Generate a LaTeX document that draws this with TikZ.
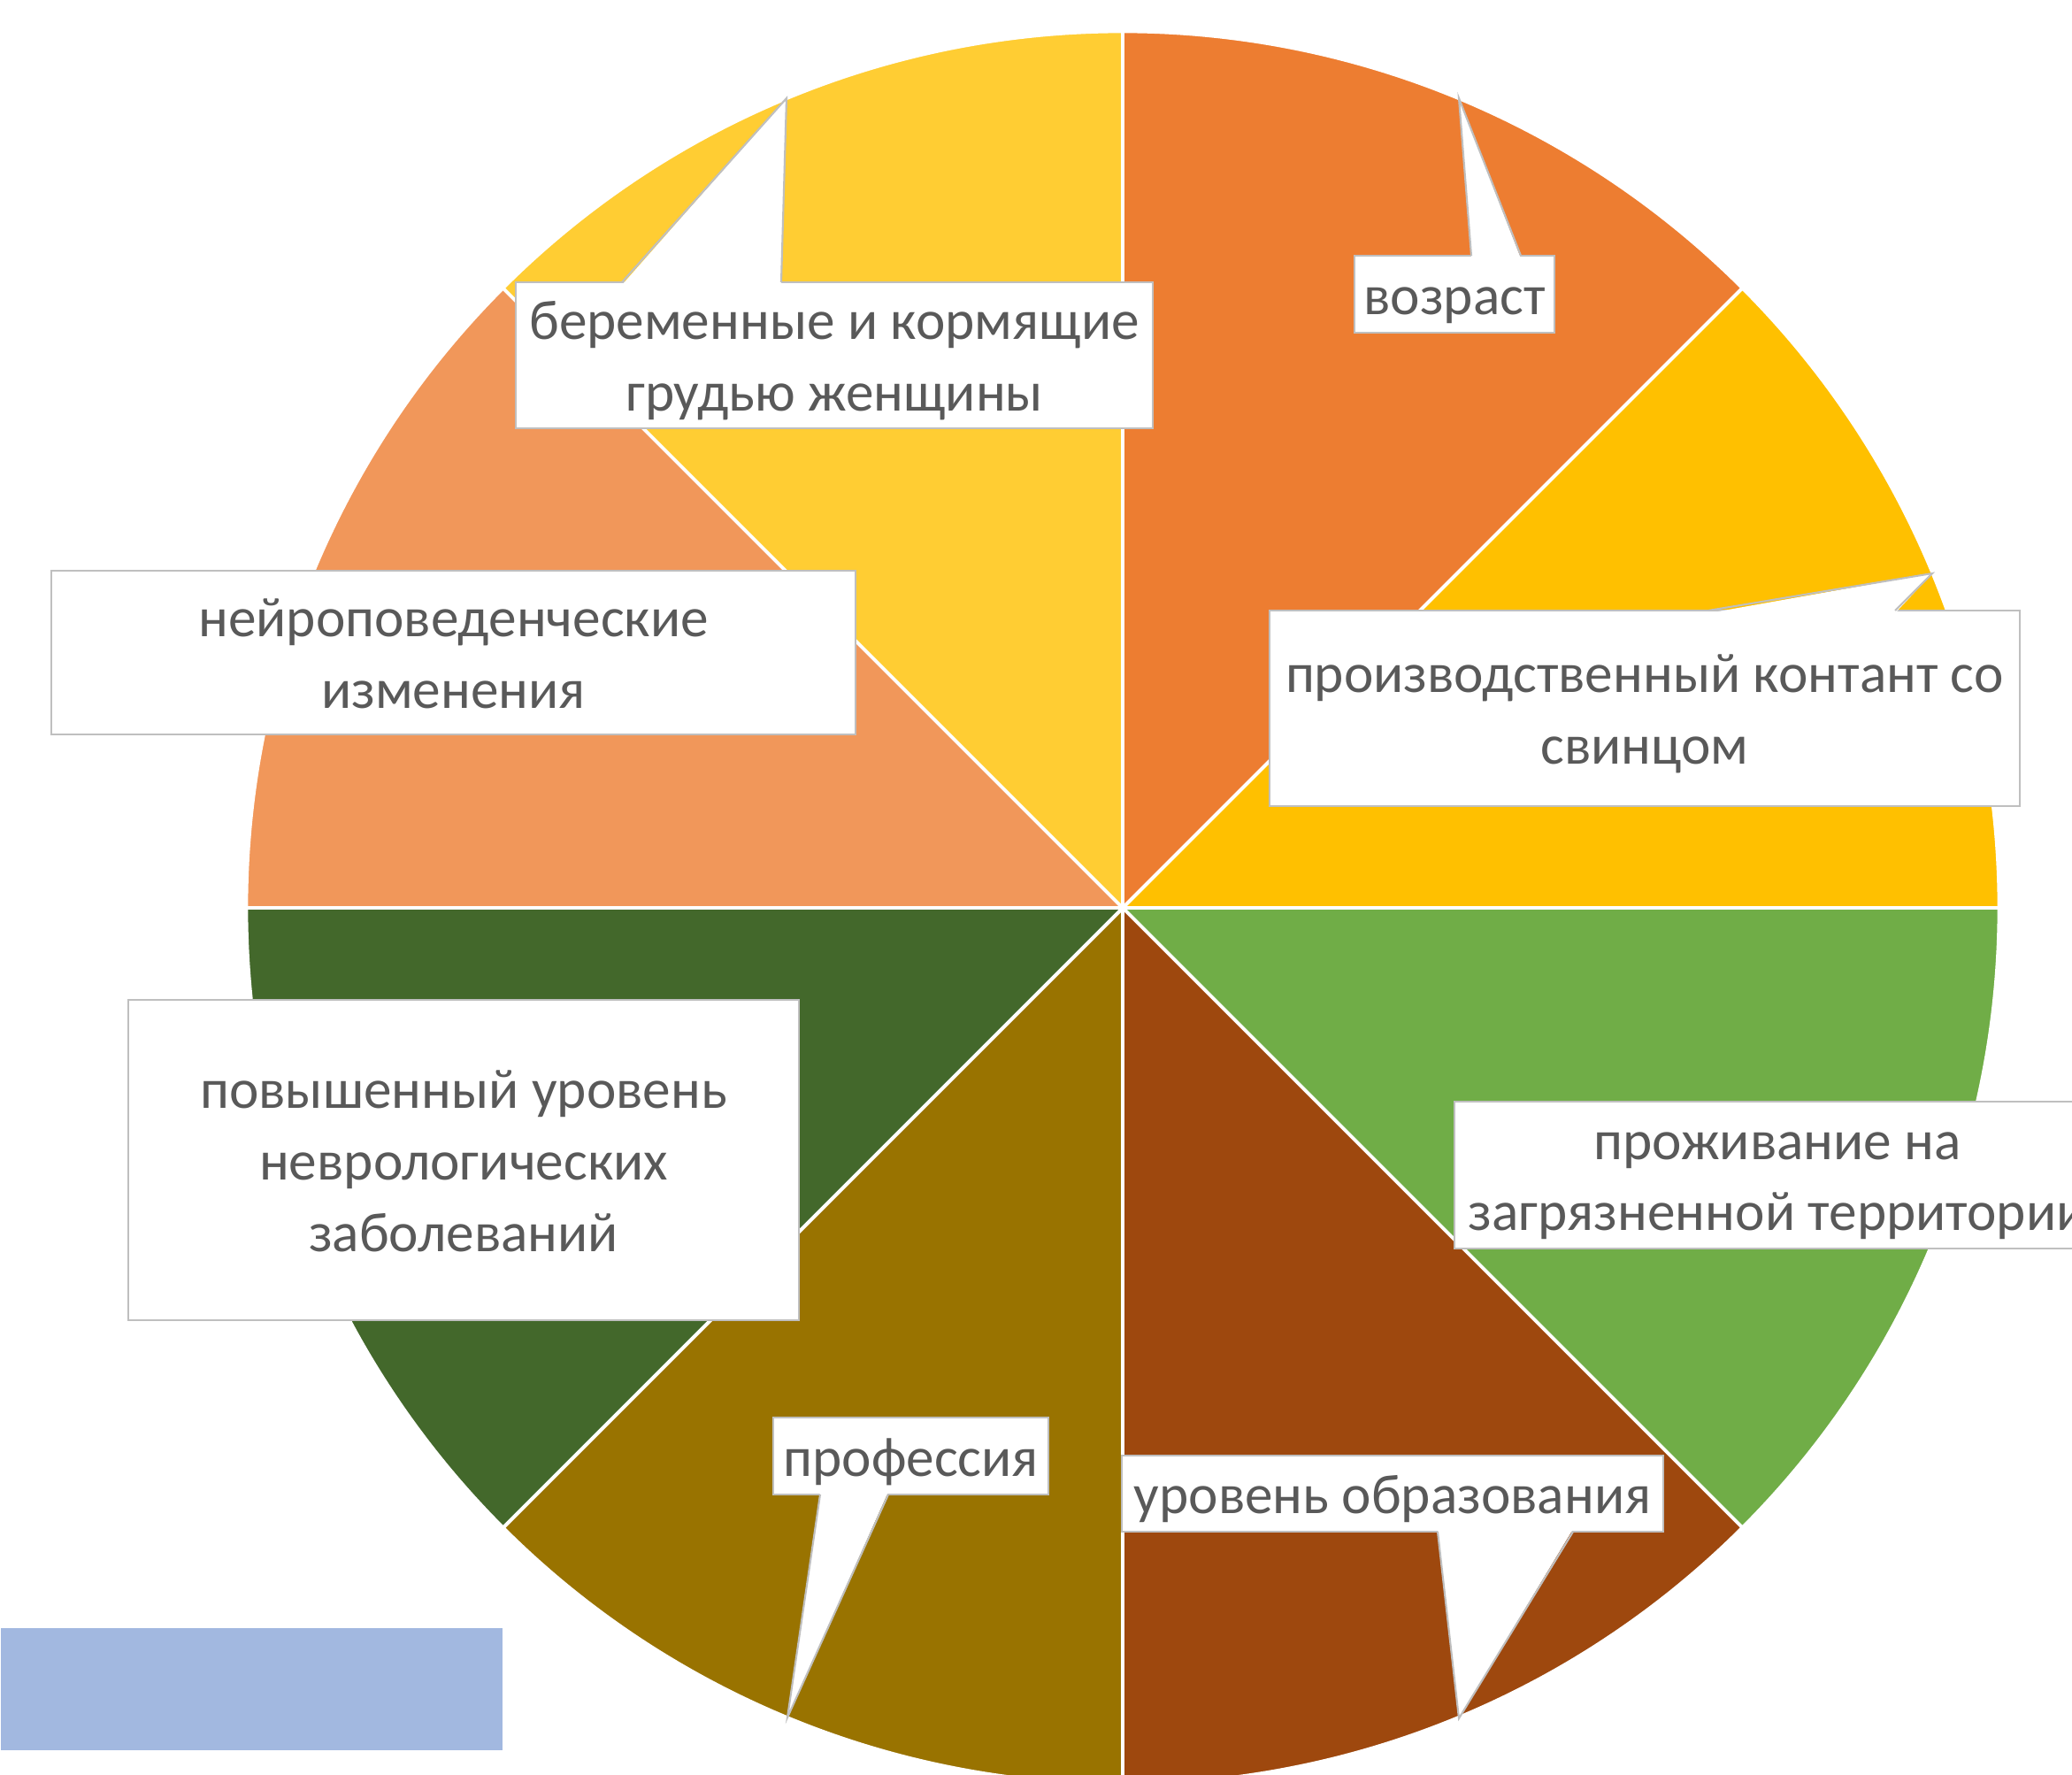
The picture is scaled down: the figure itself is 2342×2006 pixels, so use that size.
\documentclass[tikz,border=0pt]{standalone}
\usepackage{fontspec}
\setmainfont{Carlito}
\usetikzlibrary{calc}
\definecolor{sOrange}{HTML}{ED7D31}
\definecolor{sGold}{HTML}{FFC000}
\definecolor{sGreen}{HTML}{70AD47}
\definecolor{sBrown}{HTML}{9E480E}
\definecolor{sOlive}{HTML}{997300}
\definecolor{sDGreen}{HTML}{43682B}
\definecolor{sLOrange}{HTML}{F1975A}
\definecolor{sYellow}{HTML}{FFCD33}
\definecolor{boxgray}{HTML}{BFBFBF}
\definecolor{txtgray}{HTML}{595959}
\definecolor{blueRect}{HTML}{A2B8E0}
\newcommand\cstrut{\rule[-0.253em]{0pt}{1.22em}}
\begin{document}
\begin{tikzpicture}[x=0.01cm,y=-0.01cm,
  callout/.style={draw=boxgray, fill=white, line width=0.6pt, text=txtgray, align=center,
    font=\fontsize{18}{21.96}\selectfont, inner sep=0pt},
  sector/.style={draw=white, line width=1.1pt, line join=round},
  ptrfill/.style={fill=white},
  ptrline/.style={draw=boxgray, line width=0.6pt, line join=miter}]
\useasboundingbox (0,0) rectangle (2342,2006);
\fill[white] (0,0) rectangle (2342,2006);
\coordinate (c) at (1269,1026);
\def\R{9.9cm}
\foreach \a/\b/\col in {90/45/sOrange, 45/0/sGold, 0/-45/sGreen, -45/-90/sBrown,
  -90/-135/sOlive, -135/-180/sDGreen, 180/135/sLOrange, 135/90/sYellow} {
  \filldraw[fill=\col, sector] (c) -- ++(\a:\R) arc[start angle=\a, end angle=\b, radius=\R] -- cycle;
}
% blue rectangle
\node[fill=blueRect, minimum width=5.67cm, minimum height=1.38cm, inner sep=0pt, anchor=north west] (blue) at (0,1839) {};

% callouts
\node[callout, minimum width=7.20cm, minimum height=1.65cm] (preg) at (943,401.5) {\cstrut беременные и кормящие\\\cstrut грудью женщины};
\node[callout, minimum width=2.26cm, minimum height=0.87cm] (age) at (1644,332.5) {\cstrut возраст};
\node[callout, minimum width=8.48cm, minimum height=2.21cm] (contact) at (1859,800.5) {\cstrut производственный контант со\\\cstrut свинцом};
\node[callout, minimum width=7.30cm, minimum height=1.66cm] (live) at (2009,1328) {\cstrut проживание на\\\cstrut загрязненной территории};
\node[callout, minimum width=6.12cm, minimum height=0.86cm] (edu) at (1574,1688) {\cstrut уровень образования};
\node[callout, minimum width=3.11cm, minimum height=0.87cm] (prof) at (1029.5,1645.5) {\cstrut профессия};
\node[callout, minimum width=9.09cm, minimum height=1.85cm] (neuro) at (512.5,737.5) {\cstrut нейроповеденческие\\\cstrut изменения};
\node[callout, minimum width=7.58cm, minimum height=3.62cm] (disease) at (524,1311) {\cstrut повышенный уровень\\\cstrut неврологических\\\cstrut заболеваний};

% pointer tips
\coordinate (tpreg) at (889,111);
\coordinate (tage) at (1649,111);
\coordinate (tcontact) at (2184,648);
\coordinate (tedu) at (1649,1942);
\coordinate (tprof) at (890,1941);

% pointers
\fill[ptrfill] (703,322) -- (tpreg) -- (883,322) -- cycle;
\draw[ptrline] (703,319) -- (tpreg) -- (883,319);
\fill[ptrfill] (1663,292) -- (tage) -- (1719,292) -- cycle;
\draw[ptrline] (1663,289) -- (tage) -- (1719,289);
\fill[ptrfill] (1931,693) -- (tcontact) -- (2142,693) -- cycle;
\draw[ptrline] (1931,690) -- (tcontact) -- (2142,690);
\fill[ptrfill] (1625,1728) -- (tedu) -- (1778,1728) -- cycle;
\draw[ptrline] (1625,1731) -- (tedu) -- (1778,1731);
\fill[ptrfill] (927,1686) -- (tprof) -- (1004,1686) -- cycle;
\draw[ptrline] (927,1689) -- (tprof) -- (1004,1689);
\end{tikzpicture}
\end{document}
